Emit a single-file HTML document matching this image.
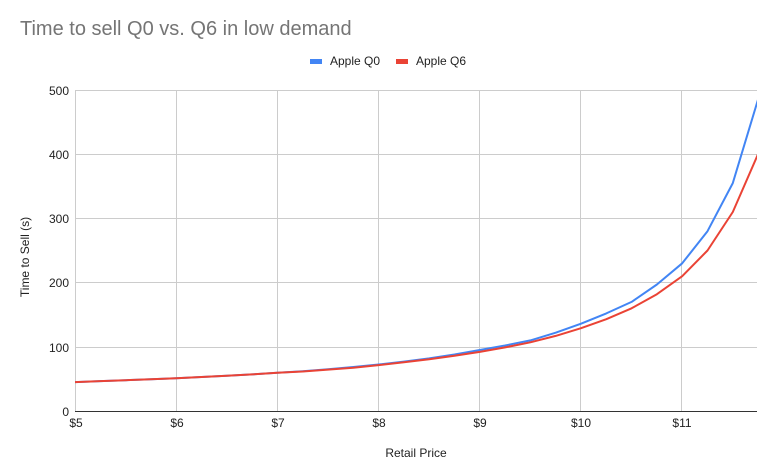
<!DOCTYPE html>
<html><head><meta charset="utf-8"><style>
html,body{margin:0;padding:0;background:#fff}
svg{display:block;font-family:"Liberation Sans",Arial,sans-serif}
</style></head><body>
<svg width="776" height="475" viewBox="0 0 776 475" xmlns="http://www.w3.org/2000/svg">
<rect width="776" height="475" fill="#fff"/>
<text x="20" y="35" font-size="20" fill="#757575">Time to sell Q0 vs. Q6 in low demand</text>
<rect x="310" y="59" width="12" height="5" fill="#4285f4"/>
<text x="330" y="65" font-size="12" fill="#222">Apple Q0</text>
<rect x="396" y="59" width="12" height="5" fill="#ea4335"/>
<text x="416" y="65" font-size="12" fill="#222">Apple Q6</text>
<g stroke="#cccccc" stroke-width="1">
<line x1="75" y1="90.5" x2="757" y2="90.5"/>
<line x1="75" y1="154.5" x2="757" y2="154.5"/>
<line x1="75" y1="218.5" x2="757" y2="218.5"/>
<line x1="75" y1="282.5" x2="757" y2="282.5"/>
<line x1="75" y1="347.5" x2="757" y2="347.5"/>
<line x1="75.5" y1="90" x2="75.5" y2="411"/>
<line x1="176.5" y1="90" x2="176.5" y2="411"/>
<line x1="277.5" y1="90" x2="277.5" y2="411"/>
<line x1="378.5" y1="90" x2="378.5" y2="411"/>
<line x1="479.5" y1="90" x2="479.5" y2="411"/>
<line x1="580.5" y1="90" x2="580.5" y2="411"/>
<line x1="681.5" y1="90" x2="681.5" y2="411"/>
</g>
<line x1="75" y1="411.5" x2="757" y2="411.5" stroke="#333" stroke-width="1"/>
<g font-size="12" fill="#222" text-anchor="end">
<text x="69" y="95">500</text><text x="69" y="159">400</text><text x="69" y="223">300</text>
<text x="69" y="287">200</text><text x="69" y="352">100</text><text x="69" y="416">0</text>
</g>
<g font-size="12" fill="#222" text-anchor="middle">
<text x="76" y="427">$5</text><text x="177" y="427">$6</text><text x="278" y="427">$7</text>
<text x="379" y="427">$8</text><text x="480" y="427">$9</text><text x="581" y="427">$10</text><text x="682" y="427">$11</text>
<text x="416" y="457">Retail Price</text>
</g>
<text transform="translate(29,257) rotate(-90)" font-size="12" fill="#222" text-anchor="middle">Time to Sell (s)</text>
<defs><clipPath id="c"><rect x="75" y="85" width="682" height="327"/></clipPath></defs>
<g clip-path="url(#c)" fill="none" stroke-width="2" stroke-linejoin="round">
<polyline stroke="#4285f4" points="75,382.1 100.3,381.1 125.6,380.2 150.9,379.2 176.2,378.3 201.5,377 226.8,375.7 252.1,374.4 277.4,372.8 302.7,371.2 328,369.3 353.3,367 378.6,364.5 403.9,361.6 429.2,358.4 454.5,354.5 479.8,350 505.1,345.5 530.4,340.4 555.7,332.7 581,323.7 606.3,313.4 631.6,301.9 656.9,284.5 682.2,263.3 707.5,231.2 732.8,183.1 758,99.6"/>
<polyline stroke="#ea4335" points="75,382.1 100.3,381.1 125.6,380.2 150.9,379.2 176.2,378.3 201.5,377 226.8,375.7 252.1,374.4 277.4,372.8 302.7,371.5 328,369.6 353.3,367.7 378.6,365.1 403.9,362.2 429.2,359.3 454.5,355.8 479.8,351.9 505.1,347.4 530.4,342.3 555.7,335.9 581,328.2 606.3,319.2 631.6,308.3 656.9,294.2 682.2,276.2 707.5,250.5 732.8,212 758,154.2"/>
</g>
</svg>
</body></html>
